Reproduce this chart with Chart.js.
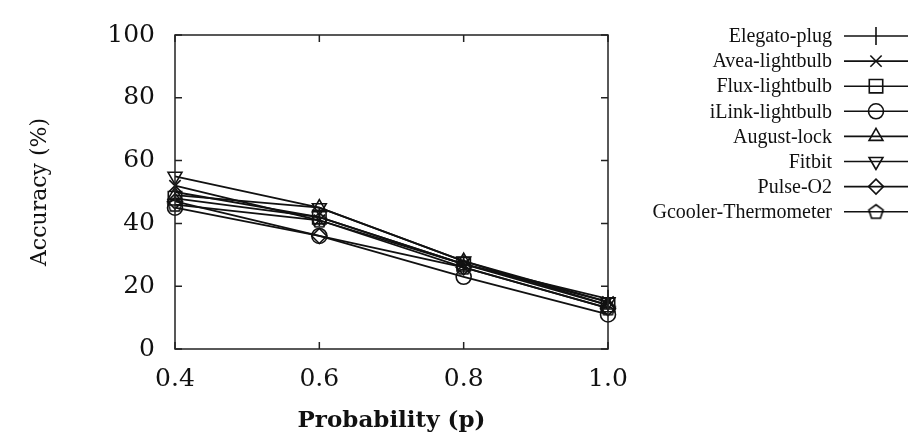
<!DOCTYPE html>
<html>
<head>
<meta charset="utf-8">
<script src="https://cdn.jsdelivr.net/npm/chart.js@4/dist/chart.umd.min.js"></script>
<style>
html,body{margin:0;padding:0;background:#fff;}
#wrap{width:920px;height:436px;}
</style>
</head>
<body>
<div id="wrap"><canvas id="c" width="920" height="436"></canvas></div>
<script>
// ---- data ----
const categories = ['0.4', '0.6', '0.8', '1.0'];
const yTicks = [0, 20, 40, 60, 80, 100];
const seriesNames = ['Elegato-plug', 'Avea-lightbulb', 'Flux-lightbulb', 'iLink-lightbulb', 'August-lock', 'Fitbit', 'Pulse-O2', 'Gcooler-Thermometer'];
const elegatoPlug = [50, 42, 27, 16];
const aveaLightbulb = [52, 41, 27, 15];
const fluxLightbulb = [48, 42, 27, 14];
const iLinkLightbulb = [45, 36, 23, 11];
const augustLock = [49, 45, 28, 14];
const fitbit = [55, 45, 28, 15];
const pulseO2 = [47, 36, 26, 13];
const gcoolerThermometer = [46, 41, 26, 13];
const xTitle = 'Probability (p)';
const yTitle = 'Accuracy (%)';

// ---- pentagon marker ----
function pentagon(r) {
  const s = Math.ceil(r * 2 + 4);
  const c = document.createElement('canvas');
  c.width = s; c.height = s;
  const g = c.getContext('2d');
  g.strokeStyle = '#000';
  g.lineWidth = 1.6;
  g.beginPath();
  for (let i = 0; i < 5; i++) {
    const a = (-90 + 72 * i) * Math.PI / 180;
    const x = s / 2 + r * Math.cos(a), y = s / 2 + 0.5 + r * Math.sin(a);
    if (i === 0) g.moveTo(x, y); else g.lineTo(x, y);
  }
  g.closePath();
  g.stroke();
  return c;
}

const styles = [
  {pointStyle: 'line', rotation: 90, radius: 9},
  {pointStyle: 'crossRot', rotation: 0, radius: 8},
  {pointStyle: 'rect', rotation: 0, radius: 9.5},
  {pointStyle: 'circle', rotation: 0, radius: 7.5},
  {pointStyle: 'triangle', rotation: 0, radius: 8},
  {pointStyle: 'triangle', rotation: 180, radius: 8},
  {pointStyle: 'rectRot', rotation: 0, radius: 7.5},
  {pointStyle: pentagon(7.5), rotation: 0, radius: 7.5}
];
const values = [elegatoPlug, aveaLightbulb, fluxLightbulb, iLinkLightbulb, augustLock, fitbit, pulseO2, gcoolerThermometer];

const datasets = seriesNames.map((n, i) => ({
  label: n,
  data: values[i],
  borderColor: '#111',
  backgroundColor: 'rgba(0,0,0,0)',
  borderWidth: 1.8,
  pointStyle: styles[i].pointStyle,
  pointRotation: styles[i].rotation,
  pointRadius: styles[i].radius,
  pointBorderWidth: 1.6,
  pointBorderColor: '#111',
  pointBackgroundColor: 'rgba(0,0,0,0)',
  tension: 0,
  fill: false
}));

// inward ticks + frame
const framePlugin = {
  id: 'frame',
  afterDatasetsDraw(chart) {
    const {ctx, chartArea: a, scales} = chart;
    ctx.save();
    ctx.strokeStyle = '#222';
    ctx.lineWidth = 1.5;
    ctx.strokeRect(a.left, a.top, a.right - a.left, a.bottom - a.top);
    const tl = 7;
    ctx.beginPath();
    scales.y.ticks.forEach((t, i) => {
      const y = scales.y.getPixelForTick(i);
      ctx.moveTo(a.left, y); ctx.lineTo(a.left + tl, y);
      ctx.moveTo(a.right, y); ctx.lineTo(a.right - tl, y);
    });
    scales.x.ticks.forEach((t, i) => {
      const x = scales.x.getPixelForTick(i);
      ctx.moveTo(x, a.bottom); ctx.lineTo(x, a.bottom - tl);
      ctx.moveTo(x, a.top); ctx.lineTo(x, a.top + tl);
    });
    ctx.stroke();
    ctx.restore();
  }
};

// legend: text right-aligned, line with marker to the right
const legendPlugin = {
  id: 'sideLegend',
  afterDraw(chart) {
    const {ctx} = chart;
    ctx.save();
    const textRight = 832, lineL = 844, lineR = 908, mx = 876;
    const y0 = 36, dy = 25.1;
    ctx.font = '20px "Liberation Serif"';
    ctx.textAlign = 'right';
    ctx.textBaseline = 'middle';
    chart.data.datasets.forEach((ds, i) => {
      const y = y0 + i * dy;
      ctx.fillStyle = '#111';
      ctx.fillText(ds.label, textRight, y + 1);
      ctx.strokeStyle = '#111';
      ctx.lineWidth = 1.6;
      ctx.beginPath();
      ctx.moveTo(lineL, y); ctx.lineTo(lineR, y);
      ctx.stroke();
      ctx.fillStyle = 'rgba(0,0,0,0)';
      ctx.strokeStyle = '#111';
      Chart.helpers.drawPoint(ctx, {
        pointStyle: ds.pointStyle,
        rotation: ds.pointRotation,
        radius: ds.pointRadius,
        borderWidth: 1.5
      }, mx, y);
    });
    ctx.restore();
  }
};

new Chart(document.getElementById('c'), {
  type: 'line',
  data: {labels: categories, datasets},
  plugins: [framePlugin, legendPlugin],
  options: {
    responsive: false,
    animation: false,
    events: [],
    layout: {padding: {left: 0, top: 16, right: 312, bottom: 0}},
    plugins: {legend: {display: false}, tooltip: {enabled: false}},
    scales: {
      x: {
        type: 'category',
        offset: false,
        grid: {display: false, drawTicks: false},
        border: {display: false},
        ticks: {
          color: '#111',
          font: {family: '"DejaVu Serif"', size: 25},
          padding: 15,
          maxRotation: 0
        },
        title: {
          display: true, text: xTitle, color: '#111',
          font: {family: '"DejaVu Serif"', size: 23, weight: 'bold', lineHeight: 1.2},
          padding: {top: 0, bottom: 1}
        },
        afterFit(s) { s.height = 87; }
      },
      y: {
        min: 0, max: 100,
        afterBuildTicks(s) { s.ticks = yTicks.map(v => ({value: v})); },
        grid: {display: false, drawTicks: false},
        border: {display: false},
        ticks: {
          color: '#111',
          font: {family: '"DejaVu Serif"', size: 25},
          padding: 20
        },
        title: {
          display: true, text: yTitle, color: '#111',
          font: {family: '"DejaVu Serif"', size: 22, lineHeight: 1.2},
          padding: {top: 27, bottom: 0}
        },
        afterFit(s) { s.width = 175; }
      }
    }
  }
});
</script>
</body>
</html>
